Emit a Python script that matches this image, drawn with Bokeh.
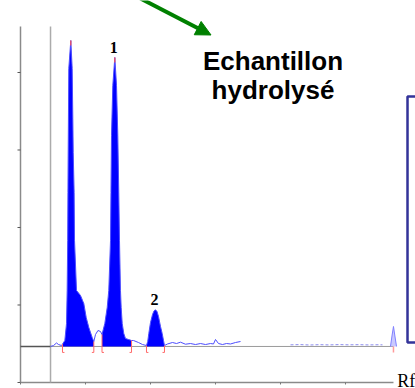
import numpy as np
from bokeh.plotting import figure
from bokeh.models import Range1d, Arrow, NormalHead, BoxAnnotation
from bokeh.core.properties import value
from bokeh.embed import file_html
from bokeh.resources import INLINE

# Densitogram of the hydrolysed sample: migration distance (mm) vs response (AU)
trace_x = [4.62, 5.08, 5.54, 5.85, 6.31, 6.46, 6.82, 7.08, 7.18, 7.26, 7.30, 7.34,
           7.43, 7.74, 7.95, 8.05, 8.11, 8.25, 8.31, 8.62, 9.23, 9.74, 10.11, 10.51,
           11.03, 11.28, 11.54, 11.92, 12.31, 12.54, 12.97, 13.34, 13.58, 13.85,
           13.92, 14.00, 14.20, 14.51, 14.77, 14.97, 15.12, 15.23, 15.38, 15.49,
           15.65, 15.89, 16.15, 16.62, 17.08, 17.38, 18.15, 18.77, 19.38, 19.57,
           19.74, 20.00, 20.31, 20.54, 20.77, 21.00, 21.23, 21.54, 21.80, 22.00,
           22.15, 22.62, 23.38, 24.00, 24.62, 25.38, 26.15, 26.92, 27.69, 28.46,
           29.23, 29.69, 30.00, 30.46, 31.08, 31.69, 32.31, 33.08, 33.85]
trace_y = [46.5, 47.7, 51.0, 49.0, 47.7, 49.5, 54.2, 76.1, 118.7, 183.2, 245.2, 300.0,
           405.2, 441.3, 405.2, 340.6, 296.8, 245.2, 183.2, 118.7, 112.3, 101.9, 83.9, 71.0,
           58.1, 52.9, 61.9, 67.1, 65.8, 61.9, 76.1, 96.8, 118.7, 183.2,
           245.2, 318.7, 383.2, 419.4, 383.2, 318.7, 245.2, 183.2, 118.7, 96.8,
           76.1, 63.2, 56.8, 55.5, 54.2, 54.2, 51.6, 49.0, 47.7, 52.9,
           63.2, 77.4, 87.7, 92.3, 93.8, 91.6, 85.2, 72.3, 63.2, 54.2,
           47.7, 49.7, 51.6, 50.3, 52.0, 49.4, 50.3, 49.0, 50.3, 49.0,
           50.3, 49.7, 55.5, 50.3, 49.0, 50.3, 49.7, 51.6, 52.9]

# Far end of the scan (weak signal) and solvent-front peak
tail_x = [41.54, 43.0, 44.5, 46.0, 47.5, 49.0, 50.5, 52.0, 53.5, 55.0, 55.69]
tail_y = [48.6, 48.9, 48.4, 48.8, 48.5, 48.9, 48.6, 48.8, 48.5, 48.7, 48.6]
front_x = [56.92, 57.15, 57.38, 57.60, 57.85]
front_y = [46.5, 60.0, 72.3, 60.0, 46.5]

baseline = 46.5
origin_x = 4.62          # application line
front_pos = 57.38        # solvent front
y_top = 459.35           # top of the response axis

# Integration limits of the zones
zone_start = [6.46, 12.54, 19.38]
zone_end = [11.28, 17.08, 22.15]
zone_names = ["", "1", "2"]

y_ticks = [0, 100, 200, 300, 400]
x_ticks = [0, 10, 20, 30, 40, 50]

tx = np.array(trace_x)
ty = np.array(trace_y)

# the frame fills the whole canvas; the axes are drawn in data space
p = figure(width=415, height=388, output_backend="svg", toolbar_location=None,
           x_range=Range1d(-3.077, 60.769), y_range=Range1d(-7.742, 492.9),
           min_border=0)
p.outline_line_color = None
p.axis.visible = False
p.grid.visible = False
p.background_fill_color = "white"

# axis lines and ticks
tick_w = 3 / 6.5
tick_h = 2 / 0.775
p.segment(x0=[0, 0], y0=[0, 0], x1=[0, front_pos], y1=[y_top, 0],
          line_color="#8a8a8a", line_width=1.5)
p.segment(x0=[0] * len(y_ticks), y0=y_ticks, x1=[-tick_w] * len(y_ticks), y1=y_ticks,
          line_color="#555555", line_width=1)
p.segment(x0=x_ticks, y0=[0] * len(x_ticks), x1=x_ticks, y1=[-tick_h] * len(x_ticks),
          line_color="#777777", line_width=1)

# application line and baseline
p.segment(x0=[origin_x], y0=[0], x1=[origin_x], y1=[y_top],
          line_color="#ababab", line_width=1.5)
p.segment(x0=[0, origin_x], y0=[baseline, baseline],
          x1=[origin_x, front_pos], y1=[baseline, baseline],
          line_color=["#555555", "#9a9a9a"], line_width=[1.5, 1])

# integrated zones
for s, e in zip(zone_start, zone_end):
    m = (tx >= s) & (tx <= e)
    p.varea(x=tx[m], y1=baseline, y2=ty[m], fill_color="#0000ff")

p.line(trace_x, trace_y, line_color="#4d4dff", line_width=1)
p.line(tail_x, tail_y, line_color="#8c8cee", line_width=1, line_dash="3 2")
p.varea(x=front_x, y1=baseline, y2=front_y, fill_color="#b3b3ff", fill_alpha=0.7)
p.line(front_x, front_y, line_color="#8080ff", line_width=1)

# integration limit markers
mark_low = baseline - 7.7
bounds = zone_start + zone_end
sides = [1] * len(zone_start) + [-1] * len(zone_end)
tops = np.interp(bounds, tx, ty)
p.segment(x0=bounds, y0=tops, x1=bounds, y1=[mark_low] * len(bounds),
          line_color="#ff6a6a", line_width=1)
p.segment(x0=bounds, y0=[mark_low] * len(bounds),
          x1=[b + 0.3 * s for b, s in zip(bounds, sides)], y1=[mark_low] * len(bounds),
          line_color="#ff6a6a", line_width=1)
p.segment(x0=[front_pos], y0=[baseline], x1=[front_pos], y1=[mark_low],
          line_color="#ff9a9a", line_width=1.5)

# apex of each zone, numbered labels
apex_x, apex_y = [], []
for s, e in zip(zone_start, zone_end):
    m = (tx >= s) & (tx <= e)
    i = np.argmax(ty[m])
    apex_x.append(tx[m][i])
    apex_y.append(ty[m][i])
tall = [i for i, v in enumerate(apex_y) if v > 300]
p.segment(x0=[apex_x[i] for i in tall], y0=[apex_y[i] for i in tall],
          x1=[apex_x[i] for i in tall], y1=[apex_y[i] - 6.5 for i in tall],
          line_color="#ff5050", line_width=1.2)
p.text(x=apex_x, y=apex_y, text=zone_names, text_align="center",
       text_baseline="middle", y_offset=-10, x_offset=-1,
       text_font=value("Liberation Serif"), text_font_style="bold",
       text_font_size="16px", text_color="black")

# sample caption with arrow
p.add_layout(Arrow(x_start=18.46, y_start=495.5, x_end=29.31, y_end=448.4,
                   line_color="#008000", line_width=4,
                   end=NormalHead(size=15, fill_color="#008000",
                                  line_color="#008000")))
p.text(x=[38.85, 38.85], y=[414.2, 376.8], text=["Echantillon", "hydrolysé"],
       text_align="center", text_baseline="middle",
       text_font=value("Liberation Sans"), text_font_style="bold",
       text_font_size="26px", text_color="black")

# framed legend panel at the right edge
p.add_layout(BoxAnnotation(left=59.54, right=63.0, bottom=51.6, top=369.0,
                           fill_color=None, fill_alpha=0, line_color="#333399",
                           line_alpha=1, line_width=2.5))

# axis title
p.text(x=[57.95], y=[1.4], text=["Rf"], text_align="left",
       text_baseline="middle", text_font=value("Liberation Serif"),
       text_font_size="18px", text_color="black")

open("out.html", "w").write(file_html(p, INLINE))
